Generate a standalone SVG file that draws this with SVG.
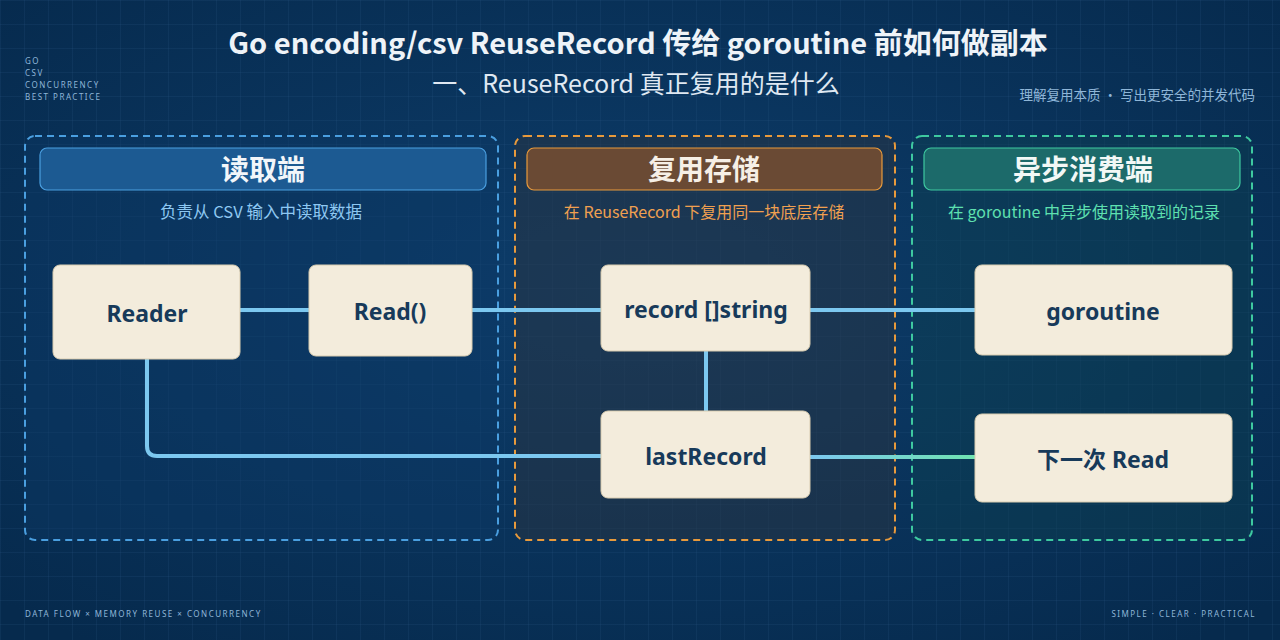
<svg xmlns="http://www.w3.org/2000/svg" width="1280" height="640" viewBox="0 0 1280 640">
<defs>
<pattern id="grid" width="24" height="24" patternUnits="userSpaceOnUse"><path d="M24 0H0V24" fill="none" stroke="#2a5a86" stroke-opacity="0.35" stroke-width="1"/></pattern>
<radialGradient id="bg" cx="50%" cy="45%" r="70%"><stop offset="0" stop-color="#0d3d6b"/><stop offset="1" stop-color="#062a4d"/></radialGradient>
<linearGradient id="bg2" gradientUnits="userSpaceOnUse" x1="810" y1="0" x2="975" y2="0"><stop offset="0" stop-color="#7cc8f0"/><stop offset="1" stop-color="#6fe3b0"/></linearGradient>
</defs>
<style>
.t{font-family:"Noto Sans CJK SC","Noto Sans",sans-serif}
.node rect{fill:#f3ecdc;stroke:#d8ccb0;stroke-width:1}
.node text{font-family:"Noto Sans","Noto Sans CJK SC",sans-serif;font-weight:700;font-size:23px;fill:#173a5a;text-anchor:middle}
.c{fill:none;stroke:#7cc8f0;stroke-width:4;stroke-linecap:round}
.small{font-family:"Noto Sans",sans-serif;font-size:8px;letter-spacing:1.5px;fill:#8fb6d8}
</style>
<rect width="1280" height="640" fill="url(#bg)"/>
<rect width="1280" height="640" fill="url(#grid)"/>
<text class="t" x="638" y="54" text-anchor="middle" font-size="29" font-weight="700" fill="#eef3f8">Go encoding/csv ReuseRecord 传给 goroutine 前如何做副本</text>
<text class="t" x="636" y="93" text-anchor="middle" font-size="25" fill="#dfe8f2">一、ReuseRecord 真正复用的是什么</text>
<g class="small"><text x="25" y="64">GO</text><text x="25" y="76">CSV</text><text x="25" y="88">CONCURRENCY</text><text x="25" y="100">BEST PRACTICE</text></g>
<text class="t" x="1255" y="100" text-anchor="end" font-size="13.5" fill="#8fb6d8">理解复用本质 · 写出更安全的并发代码</text>
<text class="small" x="25" y="617" letter-spacing="2">DATA FLOW  ×  MEMORY REUSE  ×  CONCURRENCY</text>
<text class="small" x="1256" y="617" text-anchor="end" letter-spacing="2">SIMPLE  ·  CLEAR  ·  PRACTICAL</text>

<g id="panel-read">
<rect x="25" y="136" width="473" height="404" rx="10" fill="#0d3a66" fill-opacity="0.4" stroke="#4a9fe0" stroke-width="2" stroke-dasharray="7 5"/>
<rect x="40" y="148" width="446" height="42" rx="7" fill="#1c5a92" stroke="#4a9fe0" stroke-width="1.2"/>
<text class="t" x="263" y="180" text-anchor="middle" font-size="28" font-weight="700" fill="#f2f6fa">读取端</text>
<text class="t" x="261" y="218" text-anchor="middle" font-size="16.5" fill="#8ec8f2">负责从 CSV 输入中读取数据</text>
</g>
<g id="panel-store">
<rect x="515" y="136" width="380" height="404" rx="10" fill="#2a3340" fill-opacity="0.5" stroke="#e89a3c" stroke-width="2" stroke-dasharray="7 5"/>
<rect x="527" y="148" width="355" height="42" rx="7" fill="#6a4a34" stroke="#e89a3c" stroke-width="1.2"/>
<text class="t" x="704" y="180" text-anchor="middle" font-size="28" font-weight="700" fill="#f6efe6">复用存储</text>
<text class="t" x="704" y="218" text-anchor="middle" font-size="16" fill="#f0a050">在 ReuseRecord 下复用同一块底层存储</text>
</g>
<g id="panel-consume">
<rect x="912" y="136" width="340" height="404" rx="10" fill="#0d4050" fill-opacity="0.45" stroke="#3ec9a0" stroke-width="2" stroke-dasharray="7 5"/>
<rect x="924" y="148" width="316" height="42" rx="7" fill="#1c6a6a" stroke="#3ec9a0" stroke-width="1.2"/>
<text class="t" x="1083" y="180" text-anchor="middle" font-size="28" font-weight="700" fill="#f2f8f6">异步消费端</text>
<text class="t" x="1084" y="218" text-anchor="middle" font-size="16" fill="#5ee0b0">在 goroutine 中异步使用读取到的记录</text>
</g>

<g id="connectors">
<path class="c" d="M240 310H309"/>
<path class="c" d="M472 310H601"/>
<path class="c" d="M810 310H975"/>
<path class="c" d="M706 351V411"/>
<path class="c" d="M147 359V446Q147 456 157 456H601"/>
<path d="M810 457H975" stroke="url(#bg2)" stroke-width="4" fill="none"/>
</g>

<g id="n-reader" class="node"><rect x="53" y="265" width="187" height="94" rx="7"/><text x="147" y="322">Reader</text></g>
<g id="n-read" class="node"><rect x="309" y="265" width="163" height="91" rx="7"/><text x="390" y="320">Read()</text></g>
<g id="n-record" class="node"><rect x="601" y="265" width="209" height="86" rx="7"/><text x="706" y="318">record []string</text></g>
<g id="n-goroutine" class="node"><rect x="975" y="265" width="257" height="90" rx="7"/><text x="1103" y="320">goroutine</text></g>
<g id="n-last" class="node"><rect x="601" y="411" width="209" height="87" rx="7"/><text x="706" y="465">lastRecord</text></g>
<g id="n-next" class="node"><rect x="975" y="414" width="257" height="88" rx="7"/><text x="1103" y="468">下一次 Read</text></g>
</svg>
